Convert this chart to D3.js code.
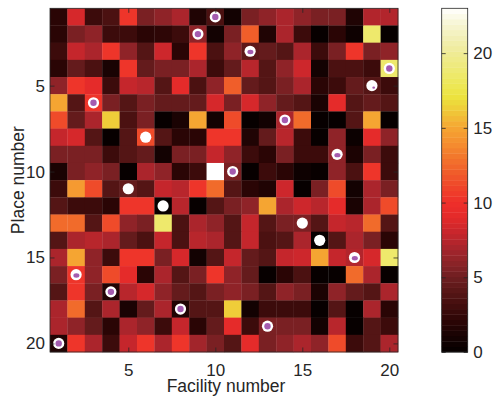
<!DOCTYPE html>
<html>
<head>
<meta charset="utf-8">
<script src="https://cdn.jsdelivr.net/npm/d3@7"></script>
<style>
  body { margin: 0; background: #fff; }
  svg text { font-family: "Liberation Sans", Arial, sans-serif; fill: #262626; }
</style>
</head>
<body>
<svg id="chart"></svg>
<script>
// facility (columns) x place (rows)
const facilities = d3.range(1, 21);
const places = d3.range(1, 21);

const costs = [
  [2, 8.5, 2.8, 3.5, 10.3, 5.4, 6.1, 7.1, 1.5, 3.5, 0.8, 5.4, 6.1, 7.1, 6.1, 5.4, 5.4, 1.5, 7.3, 7.3],
  [2, 5.4, 6.1, 2.8, 2.8, 2, 2.2, 2.8, 6.1, 0.8, 5.4, 12.1, 1.5, 7.1, 2.8, 0.1, 2, 0.5, 18.6, 0.1],
  [2.8, 7.9, 7.1, 10.3, 6.1, 3.9, 8.2, 2, 10.3, 3.5, 6.1, 4.3, 4.6, 3.9, 7.1, 2.8, 5.4, 10.3, 5.4, 6.1],
  [2, 4.6, 3.5, 1.2, 10.3, 4.6, 5.4, 5.4, 7.1, 2.8, 4.6, 7.5, 3.9, 6.1, 8.2, 0.8, 3.5, 3.5, 2.8, 18.6],
  [6.1, 10.3, 9.2, 2.8, 7.9, 7.5, 3.9, 9.2, 3.5, 6.1, 12.1, 4.6, 3.9, 5.4, 7.1, 2, 2.8, 4.6, 3.9, 2.8],
  [15, 3.9, 10.3, 5.4, 3.9, 5.4, 4.6, 4.6, 4.6, 8.5, 5.4, 8.5, 6.1, 4.6, 3.9, 1.2, 9.2, 3.9, 4.6, 3.9],
  [11.3, 4.6, 7.1, 16.3, 3.5, 5.4, 0.1, 1.2, 15, 0.8, 11.3, 0.1, 0.8, 7.1, 12.6, 0.1, 0.1, 3.9, 15, 0.1],
  [7.9, 8.5, 3.9, 0.1, 3.9, 11.3, 3.9, 2, 2, 10.3, 10.3, 1.5, 4.6, 7.5, 2.8, 0.1, 6.1, 0.4, 9.2, 6.1],
  [5.4, 5.4, 5.4, 2.8, 3.9, 4.6, 0.8, 5.4, 5.4, 7.9, 6.1, 2.8, 2, 5.4, 2.8, 2.8, 6.1, 1.3, 5.4, 2.8],
  [1.2, 5.4, 6.1, 5.4, 0.1, 7.1, 6.1, 2, 2.8, 23, 5.4, 0.1, 2.8, 2, 0.5, 0.2, 6.1, 3.5, 10.3, 2.8],
  [2.8, 14.5, 11.3, 3.9, 4.6, 3.9, 7.9, 7.5, 10.3, 12.6, 3.9, 2, 1.5, 8.2, 0.1, 5.4, 11.3, 0.8, 7.1, 5.4],
  [3.9, 2.8, 2.8, 2, 10.3, 10.3, 0.1, 7.5, 0.1, 3.9, 5.4, 6.1, 15, 7.1, 8.2, 7.5, 9.2, 1.2, 7.1, 11.3],
  [12.6, 12.6, 3.9, 11.3, 6.1, 5.4, 18.6, 3.5, 7.1, 6.1, 3.9, 7.9, 3.9, 5.4, 5.4, 3.9, 7.9, 7.5, 12.6, 3.9],
  [3.9, 7.1, 7.5, 7.1, 4.6, 3.5, 7.9, 3.5, 7.5, 7.1, 3.9, 7.9, 3.5, 3.9, 7.1, 0.1, 3.9, 7.1, 5.4, 2],
  [7.1, 15, 6.1, 2.8, 10.3, 10.3, 5.4, 8.5, 0.8, 3.9, 7.9, 4.6, 3.9, 7.9, 8.2, 15, 7.9, 7.3, 8.5, 18.6],
  [5.4, 10.3, 6.1, 11.3, 9.2, 2, 7.1, 3.9, 5.4, 10.3, 6.1, 4.6, 0.1, 2, 3.5, 0.1, 0.1, 12.6, 7.1, 0.1],
  [3.9, 10.3, 5.4, 1.5, 7.5, 8.5, 6.1, 4.6, 3.9, 5.4, 6.1, 5.4, 3.9, 6.1, 5.4, 1.3, 6.1, 4.6, 3.9, 7.1],
  [7.1, 12.6, 3.9, 7.1, 1.2, 4.6, 7.1, 1.5, 3.9, 3.9, 16.3, 0.8, 2.8, 2.8, 2.8, 0.1, 3.9, 0.1, 7.1, 2],
  [7.1, 6.1, 4.6, 2, 7.1, 6.1, 2.8, 7.9, 2, 4.6, 9.2, 2.8, 5.4, 5.4, 5.4, 0.8, 7.5, 0.1, 3.9, 2.8],
  [1.5, 10.3, 7.1, 2.8, 7.9, 10.3, 7.1, 10.3, 6.8, 5.4, 3.9, 9.2, 5.4, 6.1, 7.1, 6.1, 11.3, 2.8, 3.9, 7.1]
];

// chosen facility for each place, and how its marker looks
const assignedFacility = [10, 9, 12, 20, 19, 3, 14, 6, 17, 11, 5, 7, 15, 16, 18, 2, 4, 8, 13, 1];
const markerKind = ["full", "full", "part", "full", "sliver", "full", "full", "white", "part", "full",
  "white", "white", "white", "white", "part", "part", "full", "full", "full", "full"];

const axisTicks = [5, 10, 15, 20];
const colorbarTicks = [0, 5, 10, 15, 20];
const colorMax = 23;

const colorStops = d3.range(0, 24);
const colorValues = ["#050000", "#160202", "#2a0505", "#400c0c", "#561616", "#6e1e20", "#8c2328",
  "#a8252c", "#c8262c", "#e32a2a", "#ee2e2a", "#ef442a", "#f05c2a", "#f2752c", "#f58f30",
  "#f5a532", "#f0c438", "#ece23c", "#ede85a", "#eeea78", "#efeb95", "#f2efb5", "#f7f6d5", "#ffffff"];

const width = 494, height = 398;
const plot = { left: 50, top: 8.3, right: 398, bottom: 352 };
const bar = { left: 441.7, right: 467.7 };

const svg = d3.select("#chart").attr("width", width).attr("height", height);

const color = d3.scaleLinear().domain(colorStops).range(colorValues).clamp(true);

const x = d3.scaleBand().domain(facilities).range([plot.left, plot.right]);
const y = d3.scaleBand().domain(places).range([plot.top, plot.bottom]);
const xLin = d3.scaleLinear().domain([0.5, 20.5]).range([plot.left, plot.right]);
const yLin = d3.scaleLinear().domain([0.5, 20.5]).range([plot.top, plot.bottom]);

const cells = [];
costs.forEach((row, i) => row.forEach((v, j) => cells.push({ place: places[i], facility: facilities[j], v })));

svg.append("g")
  .selectAll("rect")
  .data(cells)
  .enter()
  .append("rect")
  .attr("x", (d) => x(d.facility))
  .attr("y", (d) => y(d.place))
  .attr("width", x.bandwidth() + 0.3)
  .attr("height", y.bandwidth() + 0.3)
  .attr("fill", (d) => color(d.v));

// markers for the assignment
const markers = assignedFacility.map((f, i) => ({ place: places[i], facility: f, kind: markerKind[i] }));
const mg = svg.append("g")
  .selectAll("g")
  .data(markers)
  .enter()
  .append("g")
  .attr("transform", (d) => `translate(${xLin(d.facility)},${yLin(d.place)})`);

mg.append("circle").attr("r", 5.6).attr("fill", "#fff");
mg.filter((d) => d.kind === "full")
  .append("circle").attr("r", 3.2).attr("fill", "#a45cb0");
mg.filter((d) => d.kind === "part")
  .append("ellipse").attr("cx", 0.3).attr("cy", 0.8).attr("rx", 3).attr("ry", 2.2).attr("fill", "#a45cb0");
mg.filter((d) => d.kind === "sliver")
  .append("ellipse").attr("cx", 1.8).attr("cy", 2).attr("rx", 1.4).attr("ry", 1.1).attr("fill", "#a45cb0");

// axes with inward ticks
const axisCol = "#262626";
function styleAxis(g) {
  g.select(".domain").remove();
  g.selectAll(".tick line").attr("stroke", axisCol).attr("stroke-width", 0.8);
  g.selectAll(".tick text").attr("font-size", 17).attr("fill", axisCol);
}

svg.append("g")
  .attr("transform", `translate(0,${plot.bottom})`)
  .call(d3.axisBottom(xLin).tickValues(axisTicks).tickSize(-4.5).tickPadding(12))
  .call(styleAxis);
svg.append("g")
  .attr("transform", `translate(0,${plot.top})`)
  .call(d3.axisTop(xLin).tickValues(axisTicks).tickSize(-4.5).tickFormat(""))
  .call(styleAxis);
svg.append("g")
  .attr("transform", `translate(${plot.left},0)`)
  .call(d3.axisLeft(yLin).tickValues(axisTicks).tickSize(-4.5).tickPadding(5))
  .call(styleAxis);
svg.append("g")
  .attr("transform", `translate(${plot.right},0)`)
  .call(d3.axisRight(yLin).tickValues(axisTicks).tickSize(-4.5).tickFormat(""))
  .call(styleAxis);

svg.append("rect")
  .attr("x", plot.left).attr("y", plot.top)
  .attr("width", plot.right - plot.left).attr("height", plot.bottom - plot.top)
  .attr("fill", "none").attr("stroke", axisCol).attr("stroke-width", 0.8);

// axis labels
svg.append("text")
  .attr("x", (plot.left + plot.right) / 2 + 2)
  .attr("y", 392)
  .attr("text-anchor", "middle")
  .attr("font-size", 17.5)
  .text("Facility number");

svg.append("text")
  .attr("transform", "rotate(-90)")
  .attr("x", -(plot.top + plot.bottom) / 2)
  .attr("y", 23.5)
  .attr("text-anchor", "middle")
  .attr("font-size", 17.5)
  .text("Place number");

// colorbar
const cb = d3.scaleLinear().domain([0, colorMax]).range([plot.bottom, plot.top]);
const nBands = 64;
const bands = d3.range(nBands).map((i) => ({ v0: (i * colorMax) / nBands, v1: ((i + 1) * colorMax) / nBands }));

svg.append("g")
  .selectAll("rect")
  .data(bands)
  .enter()
  .append("rect")
  .attr("x", bar.left)
  .attr("y", (d) => cb(d.v1))
  .attr("width", bar.right - bar.left)
  .attr("height", (d) => cb(d.v0) - cb(d.v1) + 0.4)
  .attr("fill", (d) => color((d.v0 + d.v1) / 2));

svg.append("g")
  .attr("transform", `translate(${bar.right},0)`)
  .call(d3.axisRight(cb).tickValues(colorbarTicks).tickSize(-4).tickPadding(5.5))
  .call(styleAxis);
svg.append("g")
  .attr("transform", `translate(${bar.left},0)`)
  .call(d3.axisLeft(cb).tickValues(colorbarTicks).tickSize(-4).tickFormat(""))
  .call(styleAxis);

svg.append("rect")
  .attr("x", bar.left).attr("y", plot.top)
  .attr("width", bar.right - bar.left).attr("height", plot.bottom - plot.top)
  .attr("fill", "none").attr("stroke", axisCol).attr("stroke-width", 0.8);
</script>
</body>
</html>
